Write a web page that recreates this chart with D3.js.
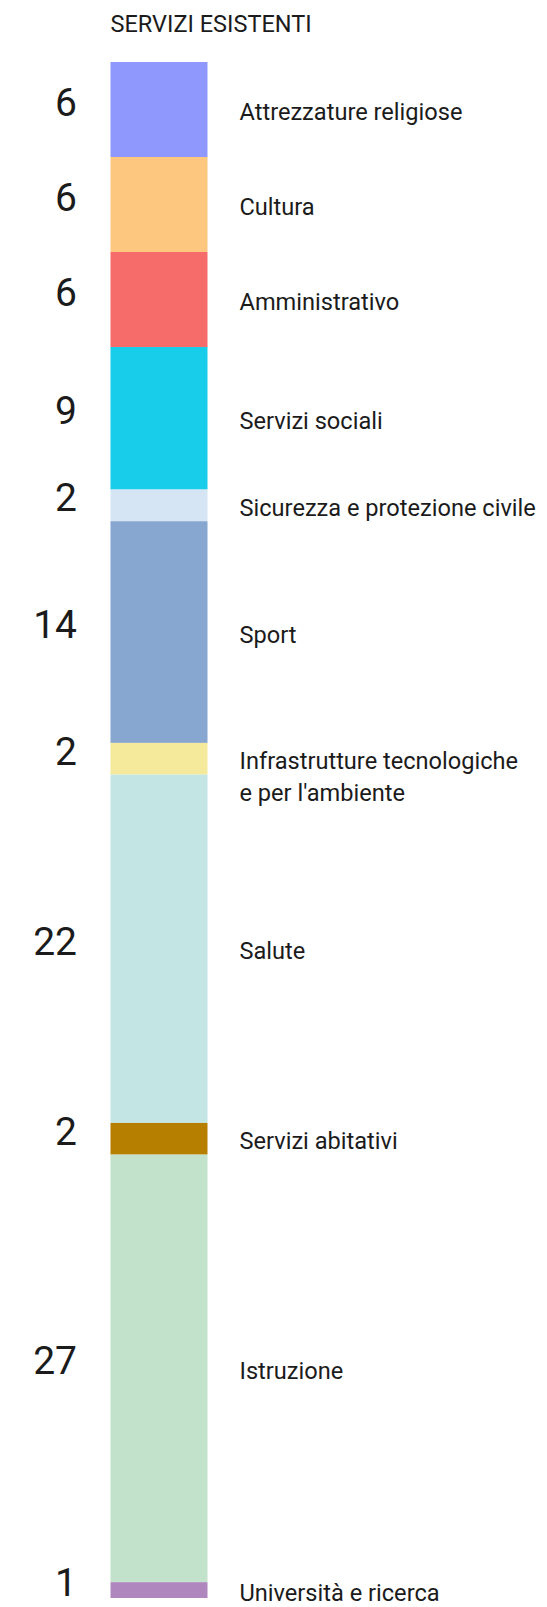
<!DOCTYPE html>
<html>
<head>
<meta charset="utf-8">
<script src="https://cdn.jsdelivr.net/npm/d3@7"></script>
<style>
  html, body { margin: 0; padding: 0; background: #ffffff; }
  svg { display: block; }
  text { font-family: Roboto, "Liberation Sans", Arial, sans-serif; fill: #1b1b1b; }
</style>
</head>
<body>
<svg id="chart" width="547" height="1607"></svg>
<script>
// Service categories, top to bottom
const categories = [
  "Attrezzature religiose",
  "Cultura",
  "Amministrativo",
  "Servizi sociali",
  "Sicurezza e protezione civile",
  "Sport",
  "Infrastrutture tecnologiche\ne per l'ambiente",
  "Salute",
  "Servizi abitativi",
  "Istruzione",
  "Università e ricerca"
];

// Number of existing services per category
const values = [6, 6, 6, 9, 2, 14, 2, 22, 2, 27, 1];

const colors = [
  "#8f99fd", "#fec77f", "#f56c6b", "#17cdea", "#d5e5f4", "#88a7d0",
  "#f5ea9b", "#c3e6e5", "#b77f00", "#c3e2cb", "#b086bf"
];

const title = "SERVIZI ESISTENTI";

// Stack the segments
let acc = 0;
const rows = categories.map((c, i) => {
  const r = { name: c, value: values[i], color: colors[i], y0: acc, y1: acc + values[i] };
  acc += values[i];
  return r;
});

const svg = d3.select("#chart");

const y = d3.scaleLinear().domain([0, d3.sum(values)]).range([62, 1598]);
const x = d3.scaleLinear().domain([0, 1]).range([110.5, 207.5]);

svg.append("text")
  .attr("x", x(0))
  .attr("y", 32)
  .attr("font-size", 23.5)
  .text(title);

const g = svg.append("g");

g.selectAll("rect.seg")
  .data(rows)
  .join("rect")
  .attr("class", "seg")
  .attr("x", x(0))
  .attr("width", x(1) - x(0))
  .attr("y", d => y(d.y0))
  .attr("height", d => y(d.y1) - y(d.y0))
  .attr("fill", d => d.color);

// Values on the left, right-aligned
g.selectAll("text.val")
  .data(rows)
  .join("text")
  .attr("class", "val")
  .attr("x", 77)
  .attr("y", d => (y(d.y0) + y(d.y1)) / 2 + 6)
  .attr("text-anchor", "end")
  .attr("font-size", 39)
  .attr("fill", "#111")
  .text(d => d.value);

// Category names on the right
const labels = g.selectAll("text.lab")
  .data(rows)
  .join("text")
  .attr("class", "lab")
  .attr("x", 239.5)
  .attr("font-size", 23.6)
  .attr("y", d => {
    const mid = (y(d.y0) + y(d.y1)) / 2;
    return d.name.includes("\n") ? mid + 10 : mid + 10.5;
  });

labels.selectAll("tspan")
  .data(d => d.name.split("\n"))
  .join("tspan")
  .attr("x", 239.5)
  .attr("dy", (d, i) => i === 0 ? 0 : 32)
  .text(d => d);
</script>
</body>
</html>
